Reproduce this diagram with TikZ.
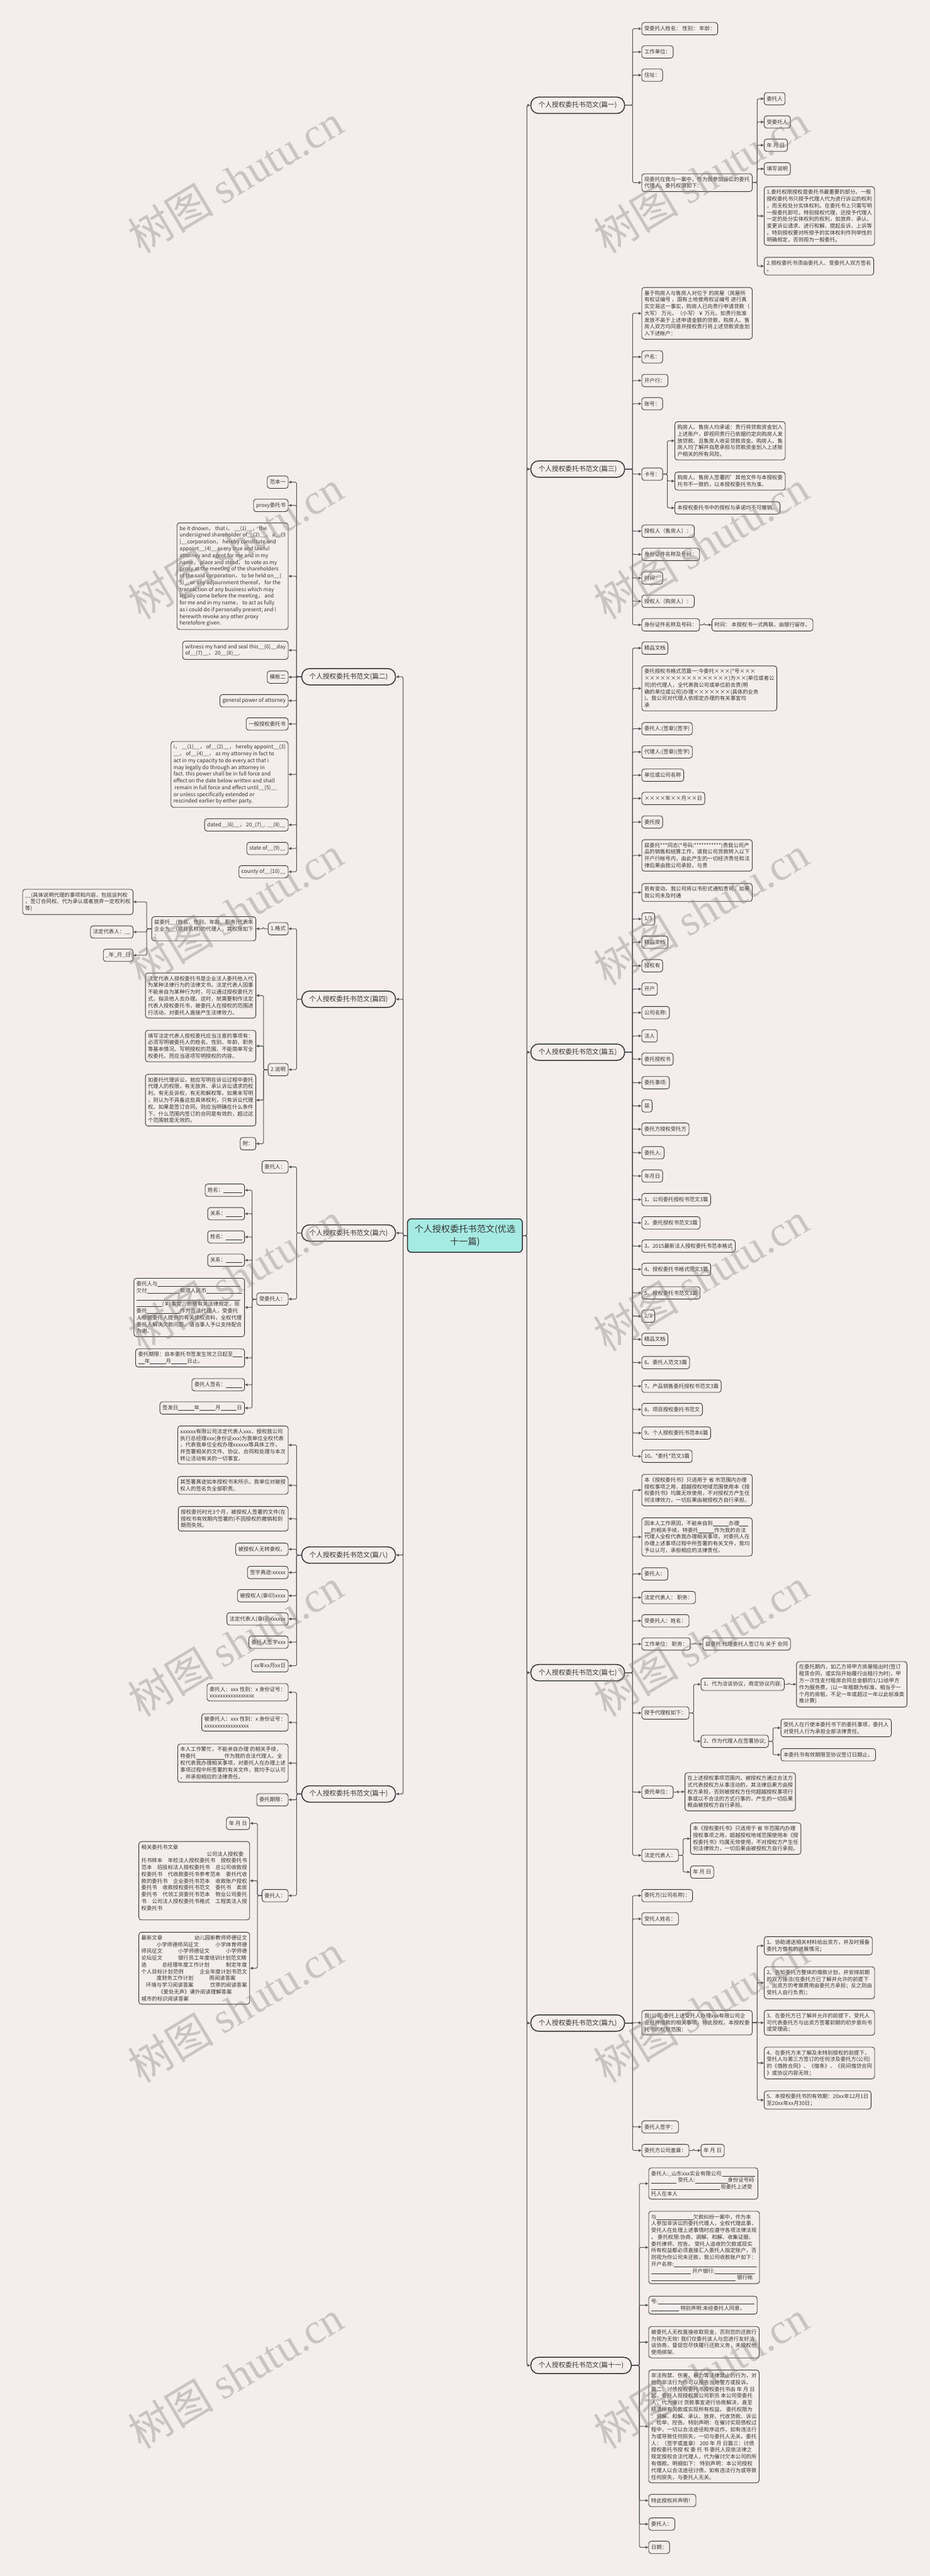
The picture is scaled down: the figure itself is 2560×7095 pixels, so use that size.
\documentclass[tikz,border=0pt]{standalone}
\usepackage{fontspec}
\setmainfont{Noto Sans CJK SC}
\newfontfamily\wmlatin{Liberation Serif}
\usetikzlibrary{arrows.meta}
\definecolor{bgc}{HTML}{F5EDED}
\definecolor{lnc}{HTML}{555555}
\definecolor{bdc}{HTML}{333333}
\definecolor{txc}{HTML}{333333}
\definecolor{ctrc}{HTML}{A6EBE3}
\definecolor{wmc}{HTML}{8A8484}
\newcommand\nf{\fontsize{14.5}{18.65}\selectfont}
\newcommand\bl[1]{\rule[-2.2pt]{#1pt}{0.9pt}}
\newcommand\cR[3][12]{\draw[conn] (#2.east) -- ++(#1,0) |- (#3.west);}
\newcommand\cL[3][12]{\draw[conn] (#2.west) -- ++(-#1,0) |- (#3.east);}
\newcommand\RN[4]{\node[box,anchor=west] (#1) at (#2,#3) {#4};}
\newcommand\LN[4]{\node[box,anchor=east] (#1) at (#2,#3) {#4};}
\newcommand\fw[1]{\makebox[291pt][s]{#1}}
\newcommand\fl[1]{\makebox[291pt][l]{#1}}
\tikzset{
  box/.style={draw=bdc, line width=1.5pt, rounded corners=7pt, fill=bgc, text=txc, align=left, inner xsep=7pt, inner ysep=8.5pt, minimum height=34pt, font=\nf},
  mainnode/.style={draw=bdc, line width=2.6pt, rounded corners=21pt, fill=bgc, text=txc, inner xsep=21pt, inner ysep=4pt, minimum height=45pt, font=\fontsize{18.5}{22}\selectfont},
  ctrnode/.style={draw=bdc, line width=2.6pt, rounded corners=10pt, fill=ctrc, text=txc, align=center, minimum width=316pt, minimum height=92pt, font=\fontsize{24.5}{35}\selectfont},
  conn/.style={draw=lnc, line width=1.8pt, rounded corners=3pt, -{Triangle[length=8pt,width=7pt]}},
  wm/.style={text=wmc, opacity=0.4, rotate=31, font=\fontsize{118}{120}\selectfont, inner sep=0pt},
}
\begin{document}
\begin{tikzpicture}[x=1pt,y=-1pt]
\fill[bgc] (0,0) rectangle (2560,7095);
\useasboundingbox (0,0) rectangle (2560,7095);

% centre and main nodes
\node[ctrnode] (C) at (1280,3403) {个人授权委托书范文(优选\\十一篇)};
\node[mainnode,anchor=west] (M1) at (1460,290) {个人授权委托书范文(篇一)};
\node[mainnode,anchor=west] (M3) at (1460,1292) {个人授权委托书范文(篇三)};
\node[mainnode,anchor=west] (M5) at (1460,2898) {个人授权委托书范文(篇五)};
\node[mainnode,anchor=west] (M7) at (1460,4607) {个人授权委托书范文(篇七)};
\node[mainnode,anchor=west] (M9) at (1460,5572) {个人授权委托书范文(篇九)};
\node[mainnode,anchor=west] (M11) at (1460,6515) {个人授权委托书范文(篇十一)};
\node[mainnode,anchor=east] (M2) at (1090,1864) {个人授权委托书范文(篇二)};
\node[mainnode,anchor=east] (M4) at (1090,2752) {个人授权委托书范文(篇四)};
\node[mainnode,anchor=east] (M6) at (1090,3396) {个人授权委托书范文(篇六)};
\node[mainnode,anchor=east] (M8) at (1090,4283) {个人授权委托书范文(篇八)};
\node[mainnode,anchor=east] (M10) at (1090,4941) {个人授权委托书范文(篇十)};

% ---------- 篇一
\RN{r1a}{1766}{79}{受委托人姓名： 性别： 年龄：}
\RN{r1b}{1766}{143}{工作单位：}
\RN{r1c}{1766}{207}{住址：}
\RN{r1d}{1766}{503}{现委托在我与一案中，作为我参加诉讼的委托\\代理人。委托权限如下：}
\RN{r1d1}{2103}{272}{委托人}
\RN{r1d2}{2103}{336}{受委托人}
\RN{r1d3}{2103}{400}{年 月 日}
\RN{r1d4}{2103}{465}{填写说明}
\RN{r1d5}{2103}{595}{1.委托权限授权是委托书最重要的部分。一般\\授权委托书只授予代理人代为进行诉讼的权利\\，而无权处分实体权利。在委托书上只需写明\\一般委托即可。特别授权代理，还授予代理人\\一定的处分实体权利的权利，如放弃、承认、\\变更诉讼请求、进行和解、提起反诉、上诉等\\。特别授权要对所授予的实体权利作列举性的\\明确规定，否则视为一般委托。}
\RN{r1d6}{2103}{733}{2.授权委托书须由委托人、受委托人双方签名\\。}

% ---------- 篇三
\RN{r3a}{1766}{863}{基于购房人与售房人对位于 的房屋（房屋所\\有权证编号 ，国有土地使用权证编号 进行真\\实交易这一事实，购房人已向贵行申请贷款（\\大写） 万元，（小写）￥ 万元。如贵行批准\\发放不高于上述申请金额的贷款，购房人、售\\房人双方均同意并授权贵行将上述贷款资金划\\入下述帐户：}
\RN{r3b}{1766}{983}{户名：}
\RN{r3c}{1766}{1048}{开户行：}
\RN{r3d}{1766}{1112}{账号：}
\RN{r3e}{1766}{1306}{卡号：}
\RN{r3e1}{1857}{1214}{购房人、售房人均承诺：贵行将贷款资金划入\\上述账户，即视同贵行已依据约定向购房人发\\放贷款、且售房人收妥贷款资金。购房人、售\\房人均了解并自愿承担与贷款资金划入上述账\\户相关的所有风险。}
\RN{r3e2}{1857}{1325}{购房人、售房人签署的'其他文件与本授权委\\托书不一致的，以本授权委托书为准。}
\RN{r3e3}{1857}{1399}{本授权委托书中的授权与承诺均不可撤销。}
\RN{r3f}{1766}{1463}{授权人（售房人）：}
\RN{r3g}{1766}{1527}{身份证件名称及号码：}
\RN{r3h}{1766}{1592}{时间：}
\RN{r3i}{1766}{1656}{授权人（购房人）：}
\RN{r3j}{1766}{1721}{身份证件名称及号码：}
\RN{r3j1}{1959}{1721}{时间： 本授权书一式两联，由银行留存。}

% ---------- 篇五
\RN{r5a}{1766}{1785}{精品文档}
\RN{r5b}{1766}{1896}{委托授权书格式范篇一:今委托×××(*号×××\\××××××××××××××××)为××(单位或者公\\司)的代理人，全代表我公司或单位前去贵(明\\确的单位或公司)办理×××××××(具体的业务\\)。我公司对代理人依规定办理的有关事宜均\\承}
\RN{r5c}{1766}{2007}{委托人:(签章)(签字)}
\RN{r5d}{1766}{2071}{代理人:(签章)(签字)}
\RN{r5e}{1766}{2135}{单位或公司名称}
\RN{r5f}{1766}{2199}{××××年××月××日}
\RN{r5g}{1766}{2264}{委托授}
\RN{r5h}{1766}{2356}{兹委托***同志(*号码:***********)责我公司产\\品的销售和结算工作，请我公司货款转入以下\\开户行帐号内，由此产生的一切经济责任和法\\律后果由我公司承担，与贵}
\RN{r5i}{1766}{2458}{若有变动，我公司将以书形式通知贵司，如果\\我公司未及时通}
\RN{r5j}{1766}{2531}{1/3}
\RN{r5k}{1766}{2595}{精品文档}
\RN{r5l}{1766}{2660}{授权有}
\RN{r5m}{1766}{2724}{开户}
\RN{r5n}{1766}{2789}{公司名称:}
\RN{r5o}{1766}{2853}{法人}
\RN{r5p}{1766}{2917}{委托授权书}
\RN{r5q}{1766}{2982}{委托事项:}
\RN{r5r}{1766}{3046}{兹}
\RN{r5s}{1766}{3110}{委托方授权受托方}
\RN{r5t}{1766}{3175}{委托人:}
\RN{r5u}{1766}{3239}{年月日}
\RN{r5v}{1766}{3304}{1。公司委托授权书范文3篇}
\RN{r5w}{1766}{3368}{2。委托授权书范文3篇}
\RN{r5x}{1766}{3432}{3。2015最新法人授权委托书范本格式}
\RN{r5y}{1766}{3496}{4。授权委托书格式范文3篇}
\RN{r5z}{1766}{3561}{5。授权委托书范文3篇}
\RN{r5A}{1766}{3625}{2/3}
\RN{r5B}{1766}{3689}{精品文档}
\RN{r5C}{1766}{3753}{6。委托人范文3篇}
\RN{r5D}{1766}{3818}{7。产品销售委托授权书范文3篇}
\RN{r5E}{1766}{3882}{8。项目授权委托书范文}
\RN{r5F}{1766}{3947}{9。个人授权委托书范本6篇}
\RN{r5G}{1766}{4011}{10。*委托*范文3篇}

% ---------- 篇七
\RN{r7a}{1766}{4104}{本《授权委托书》只适用于 省 市范围内办理\\授权事项之用，超越授权地域范围使用本《授\\权委托书》均属无效使用，不对授权方产生任\\何法律效力，一切后果由被授权方自行承担。}
\RN{r7b}{1766}{4233}{因本人工作原因，不能亲自到\bl{44}办理\bl{25}\\\bl{18}的相关手续，特委托\bl{44}作为我的合法\\代理人全权代表我办理相关事项，对委托人在\\办理上述事项过程中所签署的有关文件，我均\\予以认可，承担相应的法律责任。}
\RN{r7c}{1766}{4335}{委托人：}
\RN{r7d}{1766}{4400}{法定代表人： 职务：}
\RN{r7e}{1766}{4464}{受委托人：姓名：}
\RN{r7f}{1766}{4528}{工作单位： 职务：}
\RN{r7f1}{1934}{4528}{兹委托 代理委托人签订与 关于 合同}
\RN{r7g}{1766}{4718}{授予代理权如下：}
\RN{r7g1}{1929}{4639}{1、代为洽谈协议，商定协议内容;}
\RN{r7g1a}{2192}{4639}{在委托期内，如乙方将甲方房屋租出时(签订\\租赁合同，或实际开始履行出租行为时)，甲\\方一次性支付租房合同总金额的1/12给甲方\\作为服务费。(以一年租期为标准，相当于一\\个月的房租，不足一年或超过一年以此标准类\\推计算)}
\RN{r7g2}{1929}{4796}{2、作为代理人在签署协议;}
\RN{r7g2a}{2149}{4759}{受托人在行使本委托书下的委托事项，委托人\\对受托人行为承担全部法律责任。}
\RN{r7g2b}{2149}{4833}{本委托书有效期限至协议签订日期止。}
\RN{r7h}{1766}{4936}{委托单位：}
\RN{r7h1}{1885}{4935}{在上述授权事项范围内，被授权方通过合法方\\式代表授权方从事活动的，其法律后果方由授\\权方承担，否则被授权方任何超越授权事项行\\事或以不合法的方式行事的，产生的一切后果\\概由被授权方自行承担。}
\RN{r7i}{1766}{5110}{法定代表人：}
\RN{r7i1}{1900}{5064}{本《授权委托书》只适用于 省 市范围内办理\\授权事项之用，超越授权地域范围使用本《授\\权委托书》均属无效使用，不对授权方产生任\\何法律效力，一切后果由被授权方自行承担。}
\RN{r7i2}{1900}{5156}{年 月 日}

% ---------- 篇九
\RN{r9a}{1766}{5221}{委托方(公司名称)：}
\RN{r9b}{1766}{5285}{受托人姓名：}
\RN{r9c}{1766}{5571}{我(公司)委托上述受托人办理xxx有限公司企\\业抵押借款的相关事项，特此授权。本授权委\\托书的权限范围：}
\RN{r9c1}{2103}{5359}{1、协助递送相关材料给出资方，并及时报备\\委托方借款的进展情况；}
\RN{r9c2}{2103}{5461}{2、告知委托方整体的借款计划，并安排前期\\的双方接洽(在委托方已了解并允许的前提下\\，出资方的考察费用由委托方承担；反之则由\\受托人自行负责)；}
\RN{r9c3}{2103}{5571}{3、在委托方已了解并允许的前提下，受托人\\可代表委托方与出资方签署前期的初步意向书\\或受理函；}
\RN{r9c4}{2103}{5682}{4、在委托方未了解及未特别授权的前提下，\\受托人与第三方签订的任何涉及委托方(公司)\\的《借款合同》、《借条》、《民间借贷合同\\》或协议内容无效；}
\RN{r9c5}{2103}{5784}{5、本授权委托书的有效期：20xx年12月1日\\至20xx年xx月30日；}
\RN{r9d}{1766}{5858}{委托人签字：}
\RN{r9e}{1766}{5923}{委托方公司盖章：}
\RN{r9e1}{1929}{5923}{年 月 日}

% ---------- 篇十一
\RN{r11a}{1785}{6014}{委托人:\_山东xxx实业有限公司 \bl{90}\\\bl{70} 受托人:\bl{90}身份证号码\\\bl{188} 现委托上述受\\托人在本人}
\RN{r11b}{1785}{6190}{与\bl{101}欠款纠纷一案中，作为本\\人参加非诉讼的委托代理人，全权代理此事，\\受托人在处理上述事情时应遵守各项法律法规\\。 委托权限:协商、调解、和解、收集证据、\\委托律师、控告。 受托人追收的欠款或现实\\所有权益都必须直接汇入委托人指定账户，否\\则视为你公司未还款，我公司收款账户如下：\\开户名称:\bl{229}\\\bl{110} 开户银行:\bl{110}\\\bl{233} 银行帐}
\RN{r11c}{1785}{6349}{号:\bl{266}\\\bl{77} 特别声明:未经委托人同意，}
\RN{r11d}{1785}{6451}{被委托人无权直接收取现金，否则您的还款行\\为视为无效! 我们仅委托该人与您进行友好洽\\谈协商，督促您尽快履行还款义务，未授权他\\使用绑架、}
\RN{r11e}{1785}{6683}{非法拘禁、伤害、暴力等法律禁止的行为，对\\他的非法行为你可以报告当地警方或投诉。\\篇二：讨债授权委托书授权委托书由 年 月 日\\起，委托人现授权我公司职员 本公司受委托\\人，代为催讨 货款事宜进行协商解决，直至\\结清所有欠款或实现所有权益。 委托权限为\\：调解、和解、承认、放弃、代收货款、诉讼\\、检举、控告。特别声明：在催讨实现债权过\\程中，一切以合法途径和序运作，如有违法行\\为或导致任何损失，一切与委托人无关。委托\\人：（签字或盖章） 200 年 月 日篇三：讨债\\授权委托书授 权 委 托 书 委托人现依法律之\\规定授权合法代理人，代为催讨欠本公司的所\\有借款。明细如下： 特别声明：本公司授权\\代理人以合法途径讨债，如有违法行为或导致\\任何损失，与委托人无关。}
\RN{r11f}{1785}{6887}{特此授权并声明！}
\RN{r11g}{1785}{6952}{委托人：}
\RN{r11h}{1785}{7016}{日期：}

% ---------- 篇二
\LN{l2a}{794}{1328}{范本一}
\LN{l2b}{794}{1392}{proxy委托书}
\LN{l2c}{794}{1587}{be it dnown， that i， \_\_(1)\_\_， the\\undersigned shareholder of\_\_(2)\_\_， a\_\_(3\\)\_\_corporation， hereby constitute and\\appoint\_\_(4)\_\_as my true and lawful\\attorney and agent for me and in my\\name， place and stead， to vote as my\\proxy at the meeting of the shareholders\\of the said corporation， to be held on\_\_(\\5)\_\_or any adjournment thereof， for the\\transaction of any business which may\\legally come before the meeting， and\\for me and in my name， to act as fully\\as i could do if personally present; and i\\herewith revoke any other proxy\\heretofore given.}
\LN{l2d}{794}{1791}{witness my hand and seal this\_\_(6)\_\_day\\of\_\_(7)\_\_， 20\_\_(8)\_\_.}
\LN{l2e}{794}{1865}{模板二}
\LN{l2f}{794}{1930}{general power of attorney}
\LN{l2g}{794}{1994}{一般授权委托书}
\LN{l2h}{794}{2133}{i， \_\_(1)\_\_， of\_\_(2)\_\_， hereby appoint\_\_(3)\\\_\_， of\_\_(4)\_\_， as my attorney in fact to\\act in my capacity to do every act that i\\may legally do through an attorney in\\fact. this power shall be in full force and\\effect on the date below written and shall\\\hspace*{3pt}remain in full force and effect until\_\_(5)\_\_\\or unless specifically extended or\\rescinded earlier by either party.}
\LN{l2i}{794}{2272}{dated\_\_(6)\_\_， 20\_(7)\_. \_\_(8)\_\_}
\LN{l2j}{794}{2337}{state of\_\_(9)\_\_}
\LN{l2k}{794}{2401}{county of\_\_(10)\_\_}

% ---------- 篇四
\LN{l4a}{794}{2558}{1.格式}
\LN{l4a1}{705}{2558}{兹委托\_\_(姓名、性别、年龄、职务)代表本\\企业为\_\_(项目名称)的代理人，其权限如下\\：}
\LN{l4a1a}{367}{2484}{\_\_(具体说明代理的事项和内容，包括谈判权\\，签订合同权、代为承认或者放弃一定权利权\\等)}
\LN{l4a1b}{367}{2567}{法定代表人：\_\_}
\LN{l4a1c}{367}{2631}{\_年\_月\_日}
\LN{l4b}{794}{2946}{2.说明}
\LN{l4b1}{705}{2742}{法定代表人授权委托书是企业法人委托他人代\\为某种法律行为的法律文书。法定代表人因事\\不能亲自为某种行为时，可以通过授权委托方\\式，指派他人去办理。这时，就需要制作法定\\代表人授权委托书，被委托人在授权的范围进\\行活动，对委托人直接产生法律效力。}
\LN{l4b2}{705}{2881}{填写法定代表人授权委托应当注意的事项有：\\必须写明被委托人的姓名、性别、年龄、职务\\等基本情况。写明授权的范围，不能简单写全\\权委托，而应当逐项写明授权的内容。}
\LN{l4b3}{705}{3030}{如委托代理诉讼，就应写明在诉讼过程中委托\\代理人的权限，有无放弃、承认诉讼请求的权\\利，有无反诉权，有无和解权等。如果未写明\\，则认为不具备这些具体权利，只有诉讼代理\\权。如果是签订合同，则应当明确在什么条件\\下、什么范围内签订的合同是有效的，超过这\\个范围就是无效的。}
\LN{l4b4}{705}{3150}{附：}

% ---------- 篇六
\LN{l6a}{794}{3214}{委托人：}
\LN{l6b}{794}{3578}{受委托人：}
\LN{l6b1}{674}{3278}{姓名：\bl{51}}
\LN{l6b2}{674}{3343}{关系：\bl{44}}
\LN{l6b3}{674}{3407}{姓名：\bl{44}}
\LN{l6b4}{674}{3471}{关系：\bl{44}}
\LN{l6b5}{674}{3601}{委托人与\bl{228}\\欠付\bl{91}款项人民币\bl{98}\\\bl{286}\\\bl{71}(￥)事宜，依据有关法律规定，现\\委托\bl{91}作为合法代理人，受委托\\人根据委托人提供的有关债权资料，全权代理\\委托人解决欠款问题，请当事人予以支持配合\\为谢。}
\LN{l6b6}{674}{3740}{委托期限：自本委托书签发生效之日起至\bl{25}\\\bl{18}年\bl{44}月\bl{44}日止。}
\LN{l6b7}{674}{3814}{委托人签名：\bl{44}}
\LN{l6b8}{674}{3878}{签发日\bl{44}年\bl{44}月\bl{44}日}

% ---------- 篇八
\LN{l8a}{794}{3980}{xxxxxx有限公司法定代表人xxx，授权我公司\\执行总经理xxx(身份证xxx)为我单位全权代表\\，代表我单位全权办理xxxxxx等具体工作，\\并签署相关的文件、协议、合同和处理与本次\\转让活动有关的一切事宜。}
\LN{l8b}{794}{4091}{其签署真迹如本授权书末所示。我单位对被授\\权人的签名负全部职责。}
\LN{l8c}{794}{4183}{授权委托时光3个月，被授权人签署的文件(在\\授权书有效期内签署的)不因授权的撤销和到\\期而失效。}
\LN{l8d}{794}{4267}{被授权人无转委权。}
\LN{l8e}{794}{4331}{签字真迹:xxxxx}
\LN{l8f}{794}{4395}{被授权人(章印)xxxx}
\LN{l8g}{794}{4459}{法定代表人(章印)xxxxxx}
\LN{l8h}{794}{4523}{委托人签字xxx}
\LN{l8i}{794}{4588}{xx年xx月xx日}

% ---------- 篇十
\LN{l10a}{794}{4661}{委托人：xxx 性别：x 身份证号：\\xxxxxxxxxxxxxxxxx}
\LN{l10b}{794}{4744}{被委托人：xxx 性别：x 身份证号：\\xxxxxxxxxxxxxxxxx}
\LN{l10c}{794}{4856}{本人工作繁忙，不能亲自办理 的相关手续，\\特委托\bl{78}作为我的合法代理人，全\\权代表我办理相关事项，对委托人在办理上述\\事项过程中所签署的有关文件，我均予以认可\\，并承担相应的法律责任。}
\LN{l10d}{794}{4957}{委托期限：}
\LN{l10e}{794}{5221}{委托人：}
\LN{l10e1}{688}{5022}{年 月 日}
\LN{l10e2}{688}{5180}{相关委托书文章\\\hspace*{180pt}公司法人授权委\\\fw{托书样本 年检法人授权委托书 授权委托书}\\\fw{范本 招投标法人授权委托书 总公司收款授}\\\fw{权委托书 代收款委托书参考范本 委托代收}\\\fw{款的委托书 企业委托书范本 收款账户授权}\\\fw{委托书 收款授权委托书范文 委托书 卖房}\\\fw{委托书 代领工资委托书范本 物业公司委托}\\\fw{书 公司法人授权委托书格式 工程类法人授}\\权委托书\\\mbox{}}
\LN{l10e3}{688}{5421}{\fl{最新文章\hfill 幼儿园新教师师德征文}\\\fl{\hspace*{42pt}小学师德师风征文\hfill 小学体育师德}\\\fl{\makebox[101pt][l]{师风征文}小学师德征文\hfill 小学师德}\\\fl{\makebox[101pt][l]{论坛征文}银行员工年度培训计划范文精}\\\fl{\makebox[57pt][l]{选}总经理年度工作计划\hfill 制定年度}\\\fl{个人目标计划范例\hfill 企业年度计划书范文}\\\fl{\hspace*{42pt}\makebox[145pt][l]{度财务工作计划}雨阅读答案}\\\fl{\hspace*{13pt}环境与学习阅读答案\hfill 饮茶的阅读答案}\\\fl{\hspace*{46pt}《爱处无声》课外阅读理解答案}\\城市的标识阅读答案}

% ---------- connectors
\foreach \m in {M1,M3,M5,M7,M9,M11} {\draw[conn] (C.east) -- ++(11,0) |- (\m.west);}
\foreach \m in {M2,M4,M6,M8,M10} {\draw[conn] (C.west) -- ++(-11,0) |- (\m.east);}

\foreach \c in {r1a,r1b,r1c,r1d} {\cR[21]{M1}{\c}}
\foreach \c in {r1d1,r1d2,r1d3,r1d4,r1d5,r1d6} {\cR[13]{r1d}{\c}}
\foreach \c in {r3a,r3b,r3c,r3d,r3e,r3f,r3g,r3h,r3i,r3j} {\cR[21]{M3}{\c}}
\foreach \c in {r3e1,r3e2,r3e3} {\cR{r3e}{\c}}
\cR{r3j}{r3j1}
\foreach \c in {r5a,r5b,r5c,r5d,r5e,r5f,r5g,r5h,r5i,r5j,r5k,r5l,r5m,r5n,r5o,r5p,r5q,r5r,r5s,r5t,r5u,r5v,r5w,r5x,r5y,r5z,r5A,r5B,r5C,r5D,r5E,r5F,r5G} {\cR[21]{M5}{\c}}
\foreach \c in {r7a,r7b,r7c,r7d,r7e,r7f,r7g,r7h,r7i} {\cR[21]{M7}{\c}}
\cR{r7f}{r7f1}
\foreach \c in {r7g1,r7g2} {\cR{r7g}{\c}}
\cR{r7g1}{r7g1a}
\foreach \c in {r7g2a,r7g2b} {\cR{r7g2}{\c}}
\cR{r7h}{r7h1}
\foreach \c in {r7i1,r7i2} {\cR{r7i}{\c}}
\foreach \c in {r9a,r9b,r9c,r9d,r9e} {\cR[21]{M9}{\c}}
\foreach \c in {r9c1,r9c2,r9c3,r9c4,r9c5} {\cR[13]{r9c}{\c}}
\cR{r9e}{r9e1}
\foreach \c in {r11a,r11b,r11c,r11d,r11e,r11f,r11g,r11h} {\cR[21]{M11}{\c}}

\foreach \c in {l2a,l2b,l2c,l2d,l2e,l2f,l2g,l2h,l2i,l2j,l2k} {\cL[13]{M2}{\c}}
\foreach \c in {l4a,l4b} {\cL[13]{M4}{\c}}
\cL{l4a}{l4a1}
\foreach \c in {l4a1a,l4a1b,l4a1c} {\cL[13]{l4a1}{\c}}
\foreach \c in {l4b1,l4b2,l4b3,l4b4} {\cL{l4b}{\c}}
\foreach \c in {l6a,l6b} {\cL[13]{M6}{\c}}
\foreach \c in {l6b1,l6b2,l6b3,l6b4,l6b5,l6b6,l6b7,l6b8} {\cL{l6b}{\c}}
\foreach \c in {l8a,l8b,l8c,l8d,l8e,l8f,l8g,l8h,l8i} {\cL[13]{M8}{\c}}
\foreach \c in {l10a,l10b,l10c,l10d,l10e} {\cL[13]{M10}{\c}}
\foreach \c in {l10e1,l10e2,l10e3} {\cL{l10e}{\c}}

% ---------- watermark
\foreach \k in {0,...,6} {
  \node[wm] at (649,492+1008*\k) {树图 {\wmlatin shutu.cn}};
  \node[wm] at (1930,492+1008*\k) {树图 {\wmlatin shutu.cn}};
}
\end{tikzpicture}
\end{document}
